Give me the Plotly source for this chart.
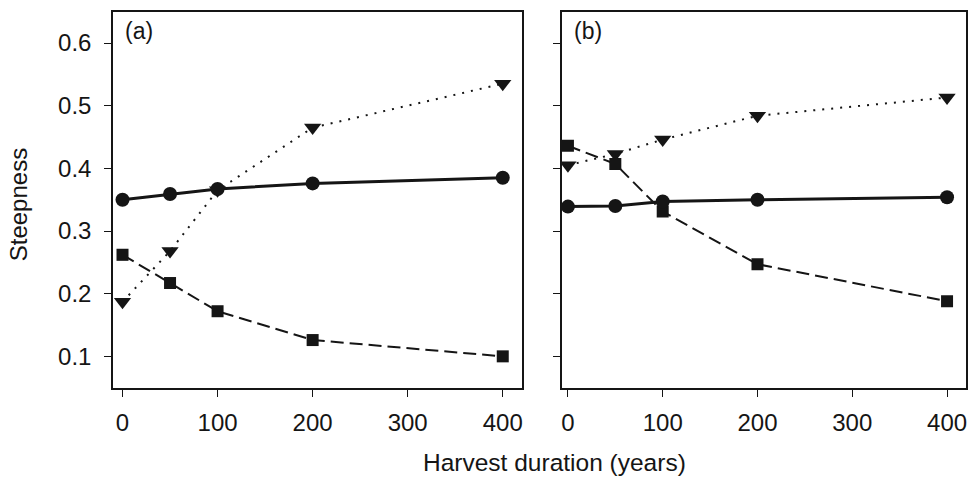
import plotly.graph_objects as go

duration = [0, 50, 100, 200, 400]

a_circle = [0.350, 0.359, 0.367, 0.376, 0.385]
a_square = [0.262, 0.217, 0.172, 0.126, 0.100]
a_triangle = [0.187, 0.268, 0.365, 0.465, 0.535]

b_circle = [0.339, 0.340, 0.347, 0.350, 0.354]
b_square = [0.436, 0.407, 0.331, 0.247, 0.188]
b_triangle = [0.405, 0.423, 0.446, 0.484, 0.513]

x_ticks = [0, 100, 200, 300, 400]
y_ticks = [0.1, 0.2, 0.3, 0.4, 0.5, 0.6]
y_ticklabels = ["0.1", "0.2", "0.3", "0.4", "0.5", "0.6"]

INK = "#151515"
FONT = "Liberation Sans, Arial, sans-serif"

fig = go.Figure()

def add_panel(circle, square, triangle, xa, ya):
    fig.add_trace(go.Scatter(x=duration, y=triangle, mode="lines+markers", xaxis=xa, yaxis=ya,
                             line=dict(color=INK, width=2, dash="2px,7px"),
                             marker=dict(symbol="triangle-down", size=15, color=INK),
                             showlegend=False))
    fig.add_trace(go.Scatter(x=duration, y=square, mode="lines+markers", xaxis=xa, yaxis=ya,
                             line=dict(color=INK, width=2, dash="13px,6px"),
                             marker=dict(symbol="square", size=12, color=INK),
                             showlegend=False))
    fig.add_trace(go.Scatter(x=duration, y=circle, mode="lines+markers", xaxis=xa, yaxis=ya,
                             line=dict(color=INK, width=3),
                             marker=dict(symbol="circle", size=14, color=INK),
                             showlegend=False))

add_panel(a_circle, a_square, a_triangle, "x", "y")
add_panel(b_circle, b_square, b_triangle, "x2", "y2")

axis_common = dict(showline=True, linecolor=INK, linewidth=1.5, mirror=True,
                   ticks="outside", ticklen=7, tickwidth=1.2, tickcolor=INK,
                   showgrid=False, zeroline=False,
                   tickfont=dict(family=FONT, size=24, color=INK))

fig.update_layout(
    width=974, height=477,
    margin=dict(l=113, r=6, t=12, b=89),
    paper_bgcolor="white", plot_bgcolor="white",
    xaxis=dict(domain=[0, 0.4792], range=[-10, 420], tickvals=x_ticks, anchor="y",
               ticklabelstandoff=5, **axis_common),
    yaxis=dict(domain=[0, 1], range=[0.0495, 0.6495], tickvals=y_ticks, ticktext=y_ticklabels,
               anchor="x", ticklabelstandoff=8, **axis_common),
    xaxis2=dict(domain=[0.526, 1], range=[-6.6, 420], tickvals=x_ticks, anchor="y2",
                ticklabelstandoff=5, **axis_common),
    yaxis2=dict(domain=[0, 1], range=[0.0495, 0.6495], tickvals=y_ticks, showticklabels=False,
                anchor="x2", **axis_common),
    annotations=[
        dict(text="(a)", xref="x domain", yref="y domain", x=0.025, y=0.99,
             xanchor="left", yanchor="top", showarrow=False,
             font=dict(family=FONT, size=23, color=INK)),
        dict(text="(b)", xref="x2 domain", yref="y2 domain", x=0.025, y=0.99,
             xanchor="left", yanchor="top", showarrow=False,
             font=dict(family=FONT, size=23, color=INK)),
        dict(text="Harvest duration (years)", xref="paper", yref="paper", x=0.518, y=-0.198,
             xanchor="center", yanchor="middle", showarrow=False,
             font=dict(family=FONT, size=24.5, color=INK)),
        dict(text="Steepness", xref="paper", yref="paper", x=-0.1107, y=0.4875,
             xanchor="center", yanchor="middle", showarrow=False, textangle=-90,
             font=dict(family=FONT, size=24, color=INK)),
    ],
)

fig.write_html("out.html", config={"displayModeBar": False},
               post_script="document.body.style.margin='0';document.body.style.overflow='hidden';")
